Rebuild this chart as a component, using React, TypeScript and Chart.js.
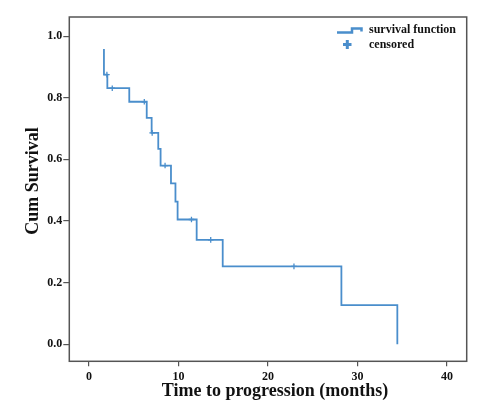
import React, { useEffect, useRef } from "react";
import { Chart, registerables } from "chart.js";

Chart.register(...registerables);

// Kaplan-Meier curve: start value, then event times with survival after each drop
const startTime = 1.67;
const startSurvival = 0.958;
const eventTimes = [1.67, 2.05, 4.5, 6.45, 7.0, 7.74, 8.0, 9.16, 9.66, 9.9, 12.03, 14.94, 28.2, 34.45];
const survivalValues = [0.875, 0.831, 0.787, 0.735, 0.686, 0.634, 0.58, 0.522, 0.463, 0.405, 0.339, 0.253, 0.127, 0.0];
const censoredTimes = [2.0, 2.6, 6.18, 7.06, 8.5, 11.45, 13.6, 22.9];

const xTicks = [0, 10, 20, 30, 40];
const yTicks = [0.0, 0.2, 0.4, 0.6, 0.8, 1.0];

const xTitle = "Time to progression (months)";
const yTitle = "Cum Survival";
const legendLabels = ["survival function", "censored"];

const BLUE = "rgb(74,142,204)";
const FRAME = "#555555";
const SERIF = "'Liberation Serif', 'DejaVu Serif', serif";

function survivalAt(t: number): number {
  let s = startSurvival;
  for (let i = 0; i < eventTimes.length; i++) {
    if (eventTimes[i] <= t) s = survivalValues[i];
  }
  return s;
}

export default function App() {
  const ref = useRef<HTMLCanvasElement | null>(null);

  useEffect(() => {
    if (!ref.current) return;

    const curve = [{ x: startTime, y: startSurvival }].concat(
      eventTimes.map((t, i) => ({ x: t, y: survivalValues[i] }))
    );
    const censored = censoredTimes.map((t) => ({ x: t, y: survivalAt(t) }));

    const decorPlugin = {
      id: "decor",
      afterDraw(chart: any) {
        const { ctx, chartArea } = chart;
        ctx.save();
        // frame
        ctx.strokeStyle = FRAME;
        ctx.lineWidth = 1.5;
        ctx.strokeRect(chartArea.left, chartArea.top, chartArea.right - chartArea.left, chartArea.bottom - chartArea.top);

        // axis titles
        ctx.fillStyle = "#111";
        ctx.font = `bold 18px ${SERIF}`;
        ctx.textAlign = "center";
        ctx.textBaseline = "middle";
        ctx.fillText(xTitle, 275, 391);
        ctx.save();
        ctx.translate(33.5, 181);
        ctx.rotate(-Math.PI / 2);
        ctx.fillText(yTitle, 0, 0);
        ctx.restore();

        // legend
        ctx.strokeStyle = BLUE;
        ctx.lineWidth = 2.5;
        ctx.beginPath();
        ctx.moveTo(337, 32.5);
        ctx.lineTo(352, 32.5);
        ctx.lineTo(352, 28.5);
        ctx.lineTo(361.5, 28.5);
        ctx.lineTo(361.5, 31.5);
        ctx.stroke();
        ctx.lineWidth = 3;
        ctx.beginPath();
        ctx.moveTo(343, 44.5);
        ctx.lineTo(351.5, 44.5);
        ctx.moveTo(347.3, 40);
        ctx.lineTo(347.3, 49);
        ctx.stroke();
        ctx.fillStyle = "#111";
        ctx.font = `bold 12px ${SERIF}`;
        ctx.textAlign = "left";
        ctx.textBaseline = "middle";
        ctx.fillText(legendLabels[0], 369, 30);
        ctx.fillText(legendLabels[1], 369, 44.5);
        ctx.restore();
      },
    };

    const tickFont = { family: SERIF, size: 12, weight: "bold" as const };

    const chart = new Chart(ref.current, {
      type: "scatter",
      data: {
        datasets: [
          {
            type: "line",
            label: legendLabels[0],
            data: curve,
            stepped: "before",
            borderColor: BLUE,
            borderWidth: 1.8,
            pointRadius: 0,
            fill: false,
          } as any,
          {
            type: "scatter",
            label: legendLabels[1],
            data: censored,
            pointStyle: "cross",
            pointRadius: 2.8,
            borderColor: BLUE,
            borderWidth: 1.3,
            backgroundColor: BLUE,
          },
        ],
      },
      options: {
        responsive: false,
        animation: false,
        devicePixelRatio: 1,
        layout: { padding: { left: 0, right: 33.3, top: 17, bottom: 0 } },
        plugins: { legend: { display: false }, tooltip: { enabled: false } },
        scales: {
          x: {
            type: "linear",
            min: -2.2,
            max: 42.2,
            afterBuildTicks: (scale: any) => {
              scale.ticks = xTicks.map((v) => ({ value: v }));
            },
            afterFit: (scale: any) => {
              scale.height = 43.7;
            },
            border: { display: false },
            grid: { drawOnChartArea: false, drawTicks: true, tickLength: 5, color: FRAME, lineWidth: 1.2 },
            ticks: { font: tickFont, color: "#111", padding: 3, maxRotation: 0, callback: (v: any) => String(v) },
          },
          y: {
            type: "linear",
            min: -0.055,
            max: 1.062,
            afterBuildTicks: (scale: any) => {
              scale.ticks = yTicks.map((v) => ({ value: v }));
            },
            afterFit: (scale: any) => {
              scale.width = 69.3;
            },
            border: { display: false },
            grid: { drawOnChartArea: false, drawTicks: true, tickLength: 6, color: FRAME, lineWidth: 1.2 },
            ticks: { font: tickFont, color: "#111", padding: 1, callback: (v: any) => Number(v).toFixed(1) },
          },
        },
      },
      plugins: [decorPlugin],
    });

    return () => chart.destroy();
  }, []);

  return (
    <div style={{ position: "fixed", left: 0, top: 0, width: 500, height: 405, background: "#fff" }}>
      <canvas ref={ref} width={500} height={405} style={{ display: "block" }} />
    </div>
  );
}
